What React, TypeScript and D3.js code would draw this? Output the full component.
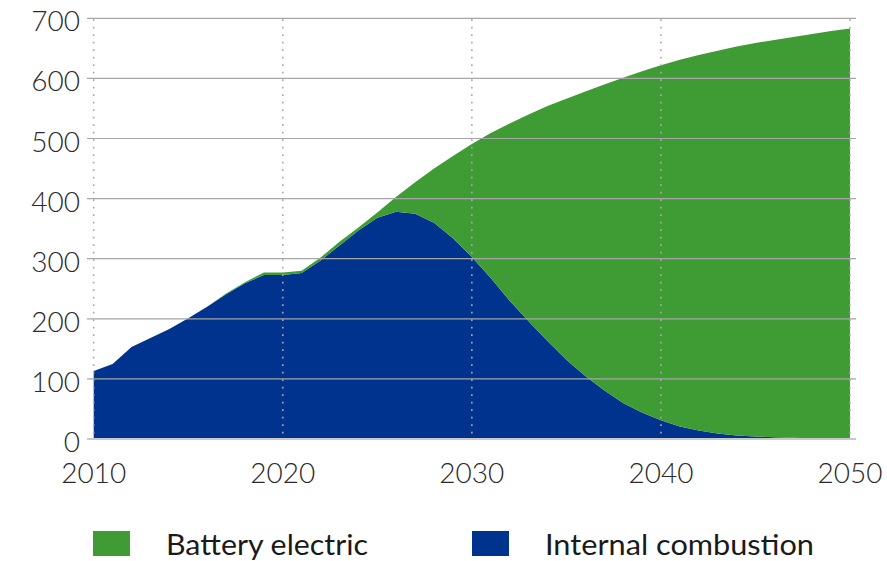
import * as React from 'react'
import * as d3 from 'd3'

const years = d3.range(2010, 2051)

// internal combustion (bottom layer)
const iceValues = [
	113, 125, 153, 168, 183, 201, 220, 241, 259, 273,
	273, 276, 297, 322, 347, 368, 378, 375, 360, 334,
	303, 268, 230, 196, 163, 132, 105, 81, 60, 44,
	31, 21, 14, 9, 6, 4, 3, 2, 1, 1,
	0.5,
]

// battery electric (stacked on top)
const bevValues = [
	0, 0, 0, 0, 0, 0, 0, 1, 2, 4,
	4, 4, 5, 6, 5, 9, 25, 52, 90, 137,
	188, 241, 295, 344, 391, 434, 473, 509, 541, 568,
	591, 610, 625, 637, 647, 655, 661, 667, 673, 678,
	682.5,
]

const yTicks = [0, 100, 200, 300, 400, 500, 600, 700]
const xTicks = [2010, 2020, 2030, 2040, 2050]

const seriesNames = ['Battery electric', 'Internal combustion']
const seriesColors = ['#3f9c35', '#00338d']

const width = 887
const height = 561
const font = 'Lato, "Open Sans", sans-serif'

type Row = { year: number; ice: number; bev: number }

const App: React.FC = () => {
	const rows: Row[] = years.map((year, i) => ({ year, ice: iceValues[i], bev: bevValues[i] }))

	const x = d3.scaleLinear().domain([2010, 2050]).range([93.7, 850])
	const y = d3.scaleLinear().domain([0, 700]).range([439, 18.3])

	const stacked = d3.stack<Row>().keys(['ice', 'bev'])(rows)

	const area = d3.area<d3.SeriesPoint<Row>>()
		.x(d => x(d.data.year))
		.y0(d => y(d[0]))
		.y1(d => y(d[1]))
		.curve(d3.curveLinear)

	const fillFor: Record<string, string> = { ice: seriesColors[1], bev: seriesColors[0] }

	return (
		<div style={{ position: 'absolute', left: 0, top: 0 }}>
			<svg width={width} height={height} style={{ display: 'block' }}>
				{stacked.map(s => (
					<path key={s.key} d={area(s) ?? ''} fill={fillFor[s.key]} />
				))}

				{/* horizontal gridlines */}
				{yTicks.map(t => (
					<line key={'g' + t}
						x1={87} x2={856} y1={y(t)} y2={y(t)}
						stroke={t === 0 ? '#c8c8c8' : '#a6a6a6'}
						strokeWidth={t === 0 ? 2 : 1.2} />
				))}

				{/* dotted verticals at decades */}
				{xTicks.map(t => (
					<line key={'v' + t}
						x1={x(t)} x2={x(t)} y1={y(700) + 1} y2={y(0) - 1}
						stroke="#aaaaaa" strokeWidth={1.6}
						strokeDasharray="1.6 5.9" />
				))}

				{yTicks.map(t => (
					<text key={'yl' + t} x={80} y={y(t) + 13}
						textAnchor="end" fontFamily={font} fontWeight={300} fontSize={28} fill="#2a2a2a">
						{t}
					</text>
				))}

				{xTicks.map(t => (
					<text key={'xl' + t} x={x(t)} y={483}
						textAnchor="middle" fontFamily={font} fontWeight={300} fontSize={28} fill="#2a2a2a">
						{t}
					</text>
				))}

				{/* legend */}
				<rect x={93} y={531} width={37} height={25} fill={seriesColors[0]} />
				<text x={166} y={555} fontFamily={font} fontSize={28} fill="#1a1a1a"
					textLength={202} lengthAdjust="spacingAndGlyphs">{seriesNames[0]}</text>
				<rect x={472} y={531} width={37} height={25} fill={seriesColors[1]} />
				<text x={545} y={555} fontFamily={font} fontSize={28} fill="#1a1a1a"
					textLength={269} lengthAdjust="spacingAndGlyphs">{seriesNames[1]}</text>
			</svg>
		</div>
	)
}

export default App
